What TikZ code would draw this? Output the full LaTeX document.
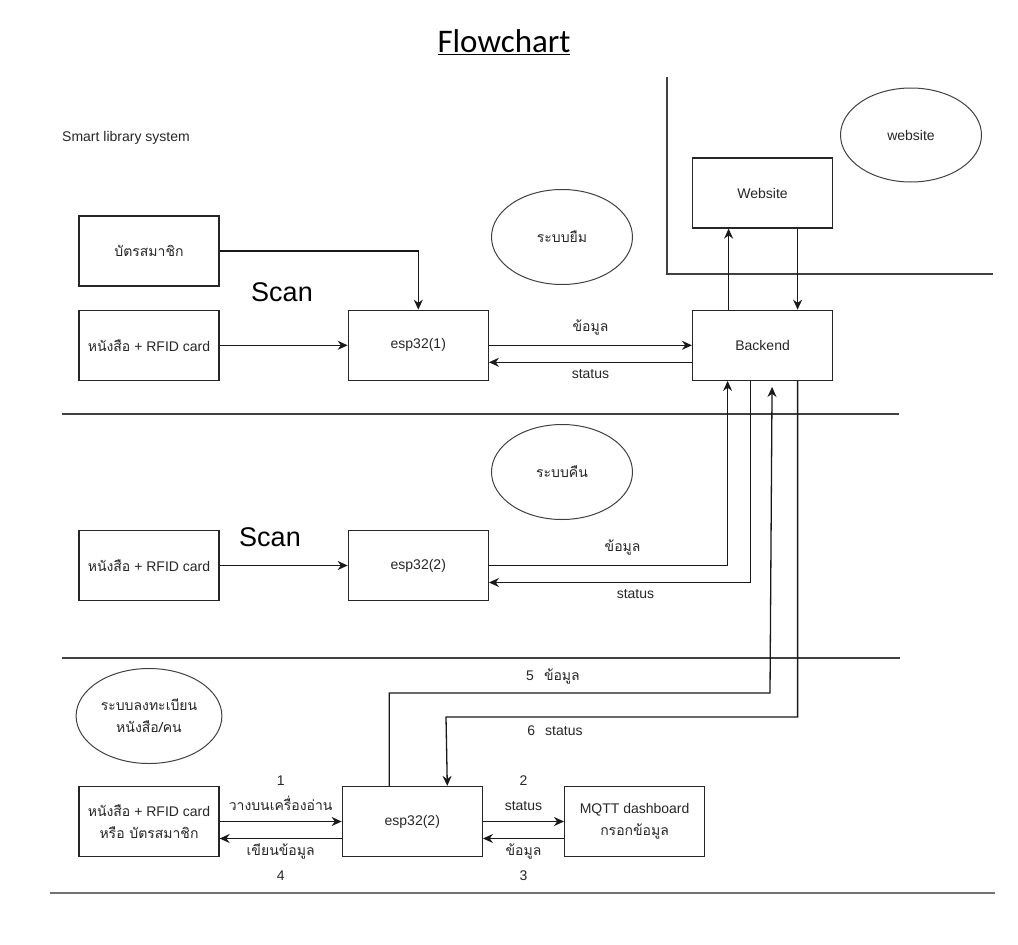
\documentclass[tikz,border=0pt]{standalone}
\usepackage{fontspec}
\setmainfont{Liberation Sans}
\newfontfamily\thaifont[Script=Thai]{Loma}
\newfontfamily\titlefont{Carlito}
\usetikzlibrary{positioning, arrows.meta, shapes.geometric}
\tikzset{
    x=1pt, y=-1pt,          % one unit is one pixel of the page
    font=\fontsize{14}{22}\selectfont,
    every node/.style={
        align=center,
        text=black!85,
    },
    block/.style={          % rectangles for devices and services
        draw=black!85,
        line width=1.3pt,
        minimum width=140pt,
        minimum height=70pt
    },
    oval/.style={           % ellipses naming each part
        ellipse,
        draw=black!75,
        line width=1pt,
        minimum width=141pt,
        minimum height=95pt
    },
    divider/.style={        % lines between the parts
        draw=black!75,
        line width=1.3pt
    },
    tag/.style={            % two line labels on arrows
        font=\fontsize{14}{25}\selectfont
    },
    flow/.style={
        draw=black!90,
        line width=1.3pt,
        -{Stealth[length=10pt, width=9pt]}
    },
    every edge/.style={flow}
}
\begin{document}
\begin{tikzpicture}
                \useasboundingbox (0,0) rectangle (1018,945);
                \node[text=black, font=\titlefont\fontsize{33}{38}\selectfont] (title) at (504,42) {\underline{Flowchart}};
                \node (lib) at (126,138) {Smart library system};
                % borrow
                \node[block] (card) at (149,251) {\thaifont บัตรสมาชิก};
                \node[block, below=23pt of card] (book1) {{\thaifont หนังสือ} + RFID card};
                \node[block, right=128pt of book1] (esp1) {esp32(1)};
                \node[block, right=203pt of esp1] (backend) {Backend};
                \node[block, above=81pt of backend] (web) {Website};
                \node[oval] (ovBorrow) at (562,237) {\thaifont ระบบยืม};
                \node[oval, minimum height=94pt] (ovWeb) at (911,135) {website};
                \node[text=black, font=\fontsize{27}{30}\selectfont] (scan1) at (282,292) {Scan};
                % return
                \node[oval] (ovReturn) at (562,472) {\thaifont ระบบคืน};
                \node[block] (book2) at (149,565.5) {{\thaifont หนังสือ} + RFID card};
                \node[block, right=128pt of book2] (esp2) {esp32(2)};
                \node[text=black, font=\fontsize{27}{30}\selectfont] (scan2) at (270,537) {Scan};
                % register
                \node[oval] (ovReg) at (149,716) {\thaifont ระบบลงทะเบียน\\\thaifont หนังสือ/คน};
                \node[block] (book3) at (149,821.5) {{\thaifont หนังสือ} + RFID card\\{\thaifont หรือ บัตรสมาชิก}};
                \node[block, right=122pt of book3] (esp3) {esp32(2)};
                \node[block, right=81pt of esp3] (mqtt) {MQTT dashboard\\{\thaifont กรอกข้อมูล}};
                \coordinate (bend5) at (770,693);
                \coordinate (bend6) at (446,717);
                % dividers
                \draw[divider] (62,414) -- (899,414);
                \draw[divider] (62,658) -- (900,658);
                \draw[divider, draw=black!55] (50,893) -- (995,893);
                \draw[divider] (667,77) -- (667,274) -- (993,274);
                % connectors
                \draw[flow] (card) -| (esp1);
                \draw (book1) edge (esp1);
                \draw (esp1) edge node[above=6pt] {\thaifont ข้อมูล} (backend);
                \draw ([yshift=-17pt]backend.west) edge node[below=3pt] {status} ([yshift=-17pt]esp1.east);
                \draw ([xshift=-34pt]backend.north) edge ([xshift=-34pt]web.south);
                \draw ([xshift=35pt]web.south) edge ([xshift=35pt]backend.north);
                \draw (book2) edge (esp2);
                \draw[flow] (esp2) -| node[pos=0.28, above=6pt] {\thaifont ข้อมูล} ([xshift=-35pt]backend.south);
                \draw[flow] ([xshift=-12pt]backend.south) |- node[pos=0.72, below=3pt] {status} ([yshift=-17pt]esp2.east);
                \draw[flow, shorten >=6pt] ([xshift=-23pt]esp3.north) |- node[pos=0.715, above=5pt] {5\hspace{10pt}{\thaifont ข้อมูล}} (bend5) -- ([xshift=9.5pt]backend.south);
                \draw[flow] ([xshift=35pt]backend.south) |- node[pos=0.845, below=5pt] {6\hspace{10pt}status} (bend6) -- ([xshift=35pt]esp3.north);
                \draw (book3) edge node[tag, above=7pt] {1\\{\thaifont วางบนเครื่องอ่าน}} (esp3);
                \draw ([yshift=-17pt]esp3.west) edge node[tag, below=1pt] {{\thaifont เขียนข้อมูล}\\4} ([yshift=-17pt]book3.east);
                \draw (esp3) edge node[tag, above=7pt] {2\\status} (mqtt);
                \draw ([yshift=-17pt]mqtt.west) edge node[tag, below=1pt] {{\thaifont ข้อมูล}\\3} ([yshift=-17pt]esp3.east);
            \end{tikzpicture}
\end{document}
